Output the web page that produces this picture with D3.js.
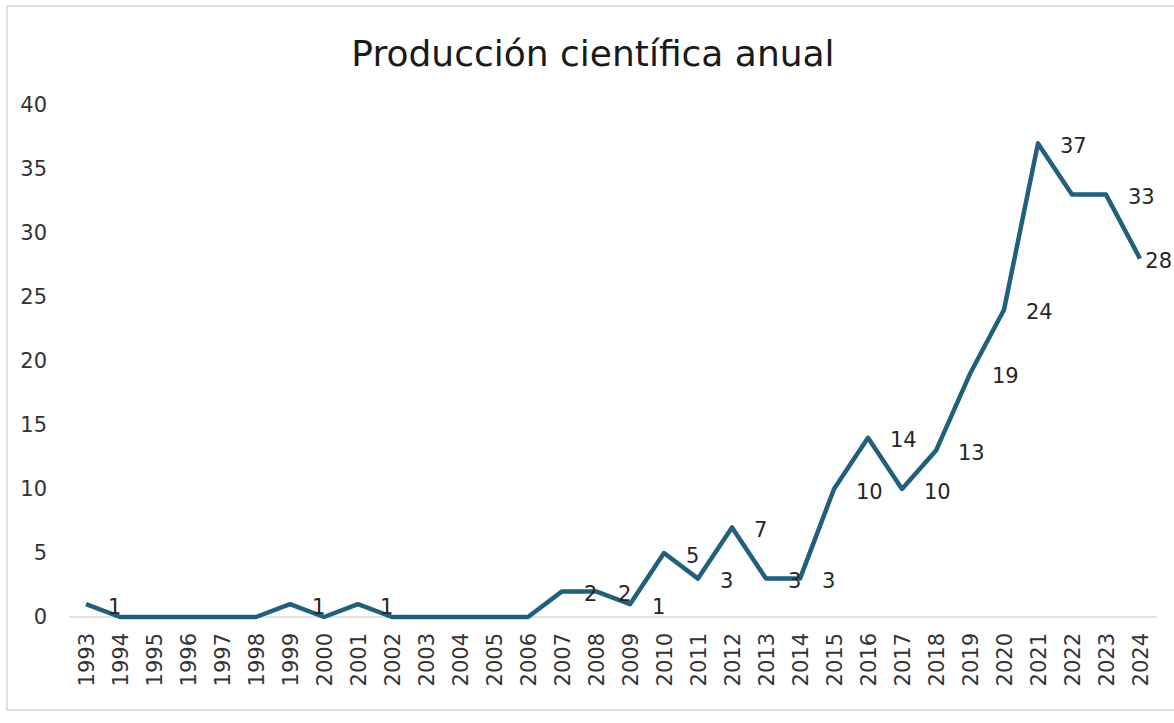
<!DOCTYPE html>
<html>
<head>
<meta charset="utf-8">
<script src="https://cdn.jsdelivr.net/npm/d3@7"></script>
<style>
  html, body { margin: 0; padding: 0; background: #ffffff; }
  svg { display: block; }
  text { font-family: "DejaVu Sans", Verdana, sans-serif; }
</style>
</head>
<body>
<svg id="chart" width="1174" height="723"></svg>
<script>
// ---- data ----
const chartTitle = "Producción científica anual";
const years = ["1993","1994","1995","1996","1997","1998","1999","2000","2001","2002",
  "2003","2004","2005","2006","2007","2008","2009","2010","2011","2012","2013","2014",
  "2015","2016","2017","2018","2019","2020","2021","2022","2023","2024"];
const publications = [1,0,0,0,0,0,1,0,1,0,0,0,0,0,2,2,1,5,3,7,3,3,10,14,10,13,19,24,37,33,33,28];
const yTicks = [0,5,10,15,20,25,30,35,40];
const hiddenLabelYears = ["2022"];

// ---- layout ----
const W = 1174, H = 723;
const plot = { left: 69, right: 1157, top: 105, bottom: 617 };
const svg = d3.select("#chart");

svg.append("rect")
  .attr("x", 7).attr("y", 6).attr("width", W + 10).attr("height", 704)
  .attr("fill", "#ffffff").attr("stroke", "#d9d9d9").attr("stroke-width", 1.5);

const x = d3.scaleBand().domain(years).range([plot.left, plot.right]).padding(0);
const y = d3.scaleLinear().domain([0, 40]).range([plot.bottom, plot.top]);
const cx = d => x(d) + x.bandwidth() / 2;

// title
svg.append("text")
  .attr("x", 593).attr("y", 66)
  .attr("text-anchor", "middle")
  .attr("font-size", 36)
  .attr("fill", "#1a1a1a")
  .text(chartTitle);

// y axis labels
const yAxis = d3.axisLeft(y).tickValues(yTicks).tickSize(0).tickPadding(0);
const gy = svg.append("g").attr("transform", `translate(47,0)`).call(yAxis);
gy.select(".domain").remove();
gy.selectAll("text").attr("font-size", 21).attr("fill", "#333")
  .attr("font-family", "DejaVu Sans, Verdana, sans-serif");

// x axis
const xAxis = d3.axisBottom(x).tickSize(0).tickPadding(0);
const gx = svg.append("g").attr("transform", `translate(0,${plot.bottom})`).call(xAxis);
gx.select(".domain").attr("stroke", "#d9d9d9").attr("stroke-width", 1.5)
  .attr("d", `M${plot.left},0H${plot.right}`);
gx.selectAll(".tick text")
  .attr("font-size", 21).attr("fill", "#333")
  .attr("font-family", "DejaVu Sans, Verdana, sans-serif")
  .attr("transform", "rotate(-90)")
  .attr("text-anchor", "end")
  .attr("x", -16).attr("y", 0).attr("dy", "0.36em");

// line
const data = years.map((yr, i) => ({ year: yr, value: publications[i] }));
const line = d3.line().x(d => cx(d.year)).y(d => y(d.value));
svg.append("path")
  .datum(data)
  .attr("d", line)
  .attr("fill", "none")
  .attr("stroke", "#215f7b")
  .attr("stroke-width", 4.5)
  .attr("stroke-linejoin", "round")
  .attr("stroke-linecap", "butt");

// data labels (to the right of each point)
const labels = svg.append("g").selectAll("text")
  .data(data.filter(d => d.value > 0 && !hiddenLabelYears.includes(d.year)))
  .join("text")
  .attr("font-size", 21)
  .attr("fill", "#262626")
  .attr("x", d => cx(d.year) + 22)
  .attr("y", d => y(d.value) + 2)
  .attr("dy", "0.36em")
  .text(d => d.value);
labels.each(function() {
  const t = d3.select(this);
  const len = this.getComputedTextLength();
  const xx = +t.attr("x");
  if (xx + len > W - 2) t.attr("x", W - 2 - len);
});
</script>
</body>
</html>
